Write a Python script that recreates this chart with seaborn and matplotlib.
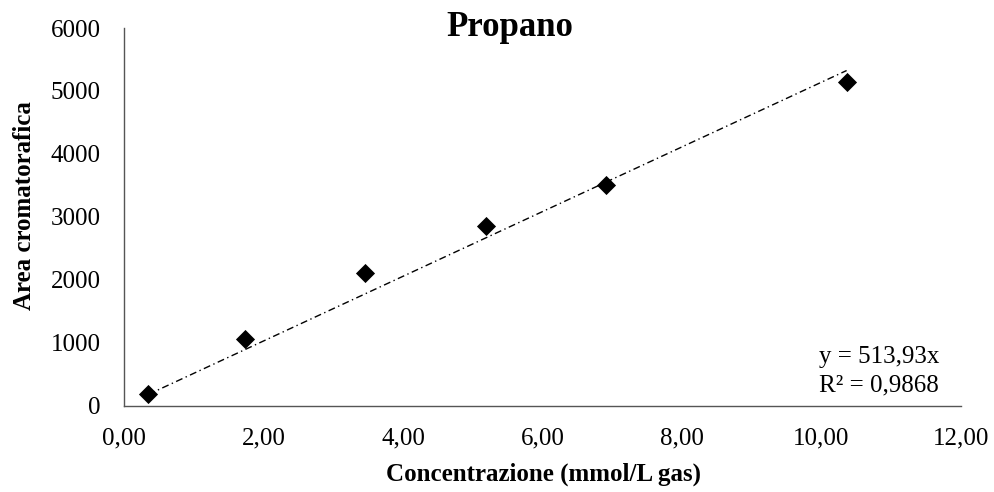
import matplotlib
matplotlib.use("Agg")
import matplotlib.pyplot as plt
import seaborn as sns
import numpy as np
import pandas as pd
from matplotlib.ticker import FuncFormatter, MultipleLocator

# Data
conc = [0.35, 1.73, 3.45, 5.19, 6.91, 10.36]
area = [186, 1055, 2103, 2855, 3505, 5147]
slope = 513.93
r2 = 0.9868
title = "Propano"
xlabel = "Concentrazione (mmol/L gas)"
ylabel = "Area cromatorafica"

sns.set_theme(style="white")
plt.rcParams['font.family'] = ['Liberation Serif', 'DejaVu Serif']
plt.rcParams['text.color'] = 'black'
plt.rcParams['axes.labelcolor'] = 'black'

fig = plt.figure(figsize=(9.95, 4.92), dpi=100)
ax = fig.add_axes([124/995, 1-405.7/492, (961-124)/995, (405.7-28)/492])

df = pd.DataFrame({"x": conc, "y": area})
fit = pd.DataFrame({"x": [conc[0], conc[-1]]})
fit["y"] = slope * fit["x"]

sns.lineplot(data=fit, x="x", y="y", ax=ax, color="black", linewidth=1.0,
             dashes=False, zorder=2).lines[0].set_dashes([5, 2.5, 1, 2.5])
sns.scatterplot(data=df, x="x", y="y", ax=ax, marker="D", s=95, color="black",
                edgecolor="black", linewidth=0, zorder=3)

ax.set_xlim(0, 12)
ax.set_ylim(0, 6000)
ax.xaxis.set_major_locator(MultipleLocator(2))
ax.yaxis.set_major_locator(MultipleLocator(1000))
ax.xaxis.set_major_formatter(FuncFormatter(lambda v, p: f"{v:.2f}".replace(".", ",")))
ax.yaxis.set_major_formatter(FuncFormatter(lambda v, p: f"{int(v)}"))

axis_col = "#555555"
for s in ["top", "right"]:
    ax.spines[s].set_visible(False)
for s in ["left", "bottom"]:
    ax.spines[s].set_color(axis_col)
    ax.spines[s].set_linewidth(1.0)
ax.tick_params(axis="both", direction="out", length=6, width=1.0, color=axis_col,
               labelsize=18, labelcolor="black")
ax.tick_params(axis="y", pad=11)
ax.tick_params(axis="x", pad=10)
ax.set_xlabel("")
ax.set_ylabel("")
ax.grid(False)

fig.text(510/995, 1-36/492, title, ha="center", va="baseline", fontsize=25,
         fontweight="bold", color="black")
fig.text(544/995, 1-474/492, xlabel, ha="center", va="center", fontsize=18,
         fontweight="bold", color="black")
fig.text(25/995, 1-206/492, ylabel, ha="center", va="center", rotation=90,
         fontsize=18, fontweight="bold", color="black")
fig.text(819/995, 1-363/492, f"y = {slope:.2f}x".replace(".", ","), ha="left",
         va="baseline", fontsize=18, color="black")
fig.text(819/995, 1-391/492, f"R² = {r2:.4f}".replace(".", ","), ha="left",
         va="baseline", fontsize=18, color="black")

fig.savefig("out.png", dpi=100, facecolor="white")
